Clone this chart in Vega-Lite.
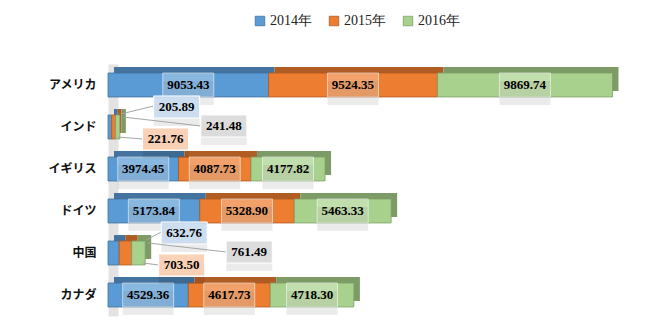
{
  "$schema": "https://vega.github.io/schema/vega-lite/v6.json",
  "width": 532,
  "height": 252,
  "autosize": {"type": "none"},
  "padding": {"left": 108, "top": 64, "right": 10, "bottom": 12},
  "background": "white",
  "config": {"view": {"stroke": null}, "font": "Liberation Serif"},
  "data": {
    "values": [
      {"country": "アメリカ", "year": "2014年", "value": 9053.43},
      {"country": "アメリカ", "year": "2015年", "value": 9524.35},
      {"country": "アメリカ", "year": "2016年", "value": 9869.74},
      {"country": "インド", "year": "2014年", "value": 205.89},
      {"country": "インド", "year": "2015年", "value": 221.76},
      {"country": "インド", "year": "2016年", "value": 241.48},
      {"country": "イギリス", "year": "2014年", "value": 3974.45},
      {"country": "イギリス", "year": "2015年", "value": 4087.73},
      {"country": "イギリス", "year": "2016年", "value": 4177.82},
      {"country": "ドイツ", "year": "2014年", "value": 5173.84},
      {"country": "ドイツ", "year": "2015年", "value": 5328.90},
      {"country": "ドイツ", "year": "2016年", "value": 5463.33},
      {"country": "中国", "year": "2014年", "value": 632.76},
      {"country": "中国", "year": "2015年", "value": 703.50},
      {"country": "中国", "year": "2016年", "value": 761.49},
      {"country": "カナダ", "year": "2014年", "value": 4529.36},
      {"country": "カナダ", "year": "2015年", "value": 4617.73},
      {"country": "カナダ", "year": "2016年", "value": 4718.30}
    ]
  },
  "encoding": {
    "y": {
      "field": "country",
      "type": "nominal",
      "sort": ["アメリカ", "インド", "イギリス", "ドイツ", "中国", "カナダ"],
      "scale": {"paddingInner": 0.43, "paddingOuter": 0.215},
      "axis": {
        "title": null,
        "ticks": false,
        "domainColor": "#e3e3e3",
        "domainWidth": 10,
        "offset": -5,
        "labelPadding": 17,
        "labelFont": "Noto Sans CJK JP",
        "labelFontWeight": "bold",
        "labelFontSize": 12,
        "labelColor": "#111111"
      }
    }
  },
  "layer": [
    {
      "mark": {"type": "bar", "xOffset": 6, "x2Offset": 6, "yOffset": -6, "y2Offset": -6},
      "encoding": {
        "x": {"field": "value", "type": "quantitative", "stack": "zero", "scale": {"domain": [0, 30000]}, "axis": null},
        "fill": {"field": "year", "type": "nominal", "scale": {"range": ["#44739f", "#b05d24", "#7c9b66"]}, "legend": null},
        "order": {"field": "year", "type": "ordinal"}
      }
    },
    {
      "mark": {"type": "bar", "strokeWidth": 0.8},
      "encoding": {
        "x": {"field": "value", "type": "quantitative", "stack": "zero", "axis": null},
        "color": {
          "field": "year",
          "type": "nominal",
          "scale": {"range": ["#5b9bd5", "#ed7d31", "#a9d18e"]},
          "legend": {
            "title": null,
            "orient": "none",
            "legendX": 145,
            "legendY": -50,
            "direction": "horizontal",
            "symbolType": "square",
            "symbolSize": 90,
            "symbolStrokeColor": "#555555",
            "symbolStrokeWidth": 0.8,
            "labelFont": "Liberation Serif",
            "labelFontSize": 14,
            "labelColor": "#222222",
            "labelOffset": 3,
            "columnPadding": 15
          }
        },
        "stroke": {"field": "year", "type": "nominal", "scale": {"range": ["#41719c", "#ae5a21", "#7f9f6a"]}, "legend": null},
        "order": {"field": "year", "type": "ordinal"}
      }
    },
    {
      "transform": [{"filter": "datum.country !== 'インド' && datum.country !== '中国'"}],
      "encoding": {
        "x": {"field": "value", "type": "quantitative", "stack": "zero", "bandPosition": 0.5, "axis": null},
        "detail": {"field": "year", "type": "nominal"},
        "order": {"field": "year", "type": "ordinal"}
      },
      "layer": [
        {"mark": {"type": "point", "shape": "M-1,-0.47H1V0.47H-1Z", "size": 2601, "filled": true, "color": "#000000", "opacity": 0.08, "yOffset": 8, "strokeWidth": 0}},
        {"mark": {"type": "point", "shape": "M-1,-0.47H1V0.47H-1Z", "size": 2601, "filled": true, "fill": "#ffffff", "fillOpacity": 0.28, "stroke": "#ffffff", "strokeOpacity": 0.55, "strokeWidth": 1, "opacity": 1}},
        {"mark": {"type": "text", "font": "Liberation Serif", "fontWeight": "bold", "fontSize": 13, "color": "#000000"}, "encoding": {"text": {"field": "value", "type": "quantitative", "format": ".2f"}}}
      ]
    },
    {
      "transform": [
        {"filter": "datum.country === 'インド' || datum.country === '中国'"},
        {"stack": "value", "groupby": ["country"], "sort": [{"field": "year"}], "as": ["v0", "v1"]},
        {"joinaggregate": [{"op": "sum", "field": "value", "as": "total"}], "groupby": ["country"]}
      ],
      "layer": [
        {
          "transform": [{"filter": "datum.year === '2014年'"}],
          "layer": [
            {"mark": {"type": "rule", "color": "#a6a6a6", "strokeWidth": 1, "xOffset": 1, "yOffset": -13, "x2Offset": 42, "y2Offset": -21},
             "encoding": {"x": {"field": "total", "type": "quantitative", "axis": null}, "x2": {"field": "v1"}, "y2": {"field": "country"}}},
            {"mark": {"type": "point", "shape": "M-1,-0.48H1V0.48H-1Z", "size": 2116, "filled": true, "color": "#000000", "opacity": 0.08, "xOffset": 65, "yOffset": -12, "strokeWidth": 0},
             "encoding": {"x": {"field": "v1", "type": "quantitative", "axis": null}}},
            {"mark": {"type": "point", "shape": "M-1,-0.48H1V0.48H-1Z", "size": 2116, "filled": true, "fill": "#c9dcf0", "fillOpacity": 0.9, "stroke": "#ffffff", "strokeWidth": 1, "opacity": 1, "xOffset": 65, "yOffset": -20},
             "encoding": {"x": {"field": "v1", "type": "quantitative", "axis": null}}},
            {"mark": {"type": "text", "font": "Liberation Serif", "fontWeight": "bold", "fontSize": 13, "color": "#000000", "dx": 65, "dy": -20},
             "encoding": {"x": {"field": "v1", "type": "quantitative", "axis": null}, "text": {"field": "value", "type": "quantitative", "format": ".2f"}}}
          ]
        },
        {
          "transform": [{"filter": "datum.year === '2015年'"}],
          "layer": [
            {"mark": {"type": "rule", "color": "#a6a6a6", "strokeWidth": 1, "xOffset": -2, "yOffset": 10, "x2Offset": 27, "y2Offset": 12},
             "encoding": {"x": {"field": "total", "type": "quantitative", "axis": null}, "x2": {"field": "v1"}, "y2": {"field": "country"}}},
            {"mark": {"type": "point", "shape": "M-1,-0.48H1V0.48H-1Z", "size": 2116, "filled": true, "color": "#000000", "opacity": 0.08, "xOffset": 50, "yOffset": 20, "strokeWidth": 0},
             "encoding": {"x": {"field": "v1", "type": "quantitative", "axis": null}}},
            {"mark": {"type": "point", "shape": "M-1,-0.48H1V0.48H-1Z", "size": 2116, "filled": true, "fill": "#f8cdb0", "fillOpacity": 0.9, "stroke": "#ffffff", "strokeWidth": 1, "opacity": 1, "xOffset": 50, "yOffset": 12},
             "encoding": {"x": {"field": "v1", "type": "quantitative", "axis": null}}},
            {"mark": {"type": "text", "font": "Liberation Serif", "fontWeight": "bold", "fontSize": 13, "color": "#000000", "dx": 50, "dy": 12},
             "encoding": {"x": {"field": "v1", "type": "quantitative", "axis": null}, "text": {"field": "value", "type": "quantitative", "format": ".2f"}}}
          ]
        },
        {
          "transform": [{"filter": "datum.year === '2016年'"}],
          "layer": [
            {"mark": {"type": "rule", "color": "#a6a6a6", "strokeWidth": 1, "xOffset": 3, "yOffset": -10, "x2Offset": 81, "y2Offset": -1},
             "encoding": {"x": {"field": "total", "type": "quantitative", "axis": null}, "x2": {"field": "v1"}, "y2": {"field": "country"}}},
            {"mark": {"type": "point", "shape": "M-1,-0.48H1V0.48H-1Z", "size": 2116, "filled": true, "color": "#000000", "opacity": 0.08, "xOffset": 104, "yOffset": 7, "strokeWidth": 0},
             "encoding": {"x": {"field": "v1", "type": "quantitative", "axis": null}}},
            {"mark": {"type": "point", "shape": "M-1,-0.48H1V0.48H-1Z", "size": 2116, "filled": true, "fill": "#d9d9d9", "fillOpacity": 0.9, "stroke": "#ffffff", "strokeWidth": 1, "opacity": 1, "xOffset": 104, "yOffset": -1},
             "encoding": {"x": {"field": "v1", "type": "quantitative", "axis": null}}},
            {"mark": {"type": "text", "font": "Liberation Serif", "fontWeight": "bold", "fontSize": 13, "color": "#000000", "dx": 104, "dy": -1},
             "encoding": {"x": {"field": "v1", "type": "quantitative", "axis": null}, "text": {"field": "value", "type": "quantitative", "format": ".2f"}}}
          ]
        }
      ]
    }
  ]
}
